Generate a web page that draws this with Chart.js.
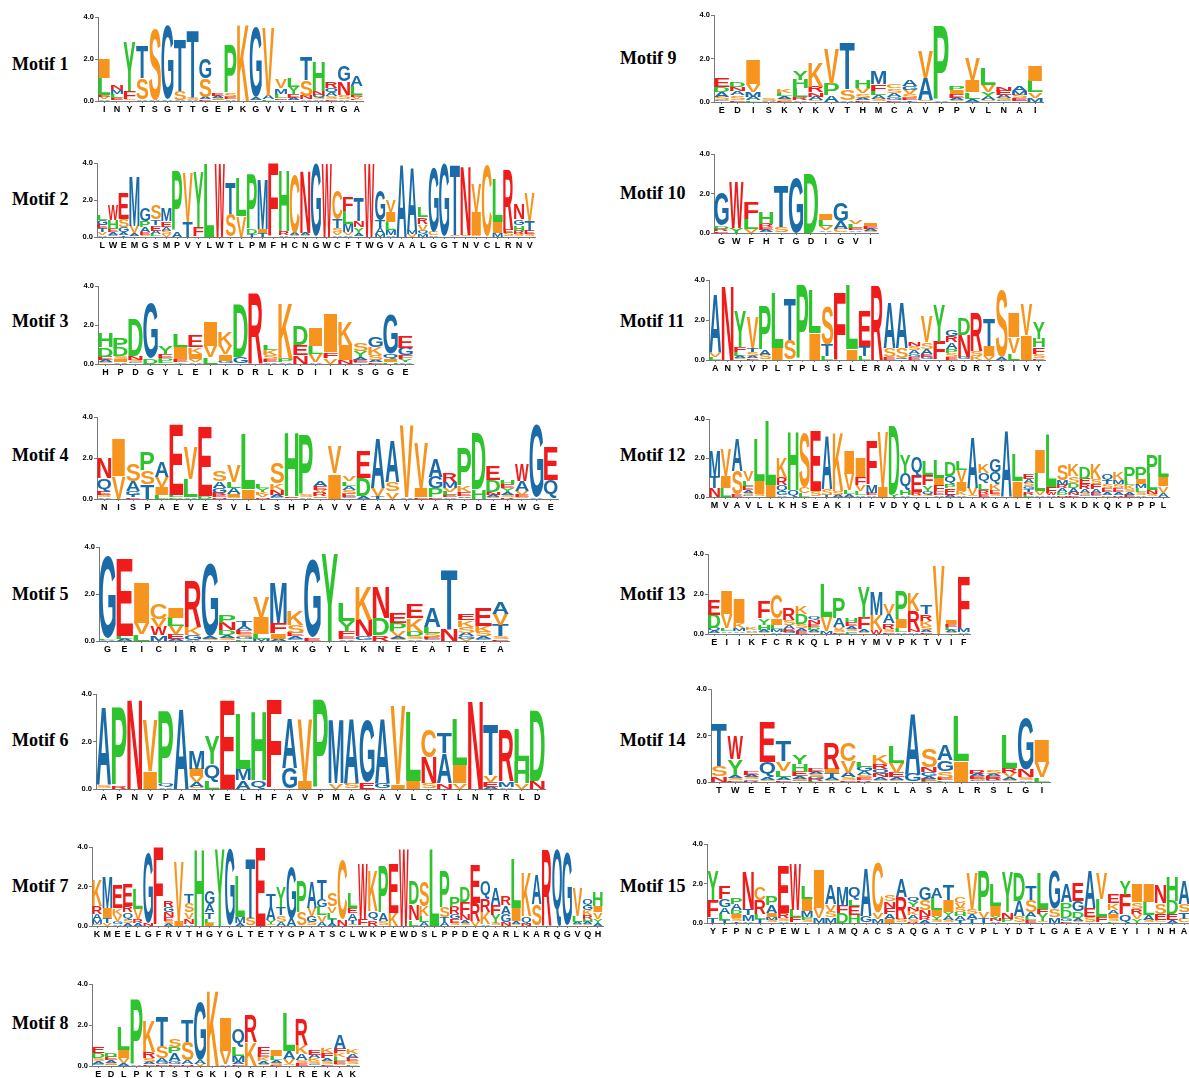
<!DOCTYPE html>
<html>
<head>
<meta charset="utf-8">
<title>Conserved motifs</title>
<script src="https://cdn.jsdelivr.net/npm/chart.js@4.4.1/dist/chart.umd.min.js"></script>
<style>
  html, body { margin: 0; padding: 0; background: #fff; }
  #page { position: relative; width: 1189px; height: 1078px; overflow: hidden; background: #fff; }
  .motif-title {
    position: absolute; white-space: nowrap; color: #000;
    font: bold 18px "Liberation Serif", "Times New Roman", serif;
    transform: translateY(-50%);
  }
  canvas { position: absolute; }
</style>
</head>
<body>
<div id="page"></div>
<script>
// Consensus residues (x-axis labels) and letter stacks for each motif.
// Each stack lists residue / height (bits) pairs from the top of the column down.
const motif1Labels = [...'INYTSGTTGEPKGVVLTHRGA'];
const motif1Stacks = [
  ['I',.95,'L',.8,'E',.12,'V',.1,'A',.08], ['N',.25,'M',.2,'L',.15,'E',.1,'S',.06], ['Y',2.3,'F',.38,'S',.08],
  ['T',1.56,'S',1.0,'A',.08], ['S',3.4,'A',.07], ['G',3.5,'A',.08], ['T',2.5,'S',.43,'A',.06],
  ['T',3.2,'S',.1,'A',.06], ['G',.96,'S',.9,'A',.1,'E',.08], ['E',.1,'A',.1,'S',.1,'G',.06],
  ['P',2.28,'S',.2,'E',.1,'A',.1], ['K',3.7], ['G',3.35,'A',.12,'S',.05], ['V',3.2,'A',.15,'L',.1],
  ['V',.45,'M',.27,'L',.2,'E',.08,'F',.07], ['L',.43,'Y',.37,'E',.15,'A',.1,'S',.06],
  ['T',1.08,'S',.75,'N',.15,'A',.08], ['H',1.43,'N',.2,'Q',.12,'S',.1,'A',.08],
  ['R',.32,'Q',.2,'A',.15,'S',.15,'E',.1], ['G',.72,'N',.64,'S',.2,'A',.1], ['A',.48,'L',.4,'E',.1,'V',.1,'F',.1]
];

const motif2Labels = [...'LWEMGSMPVYLWTLPMFHCNGWCFTWGVAALGGTNVCLRNV'];
const motif2Stacks = [
  ['L',.25,'G',.25,'E',.2,'T',.2,'V',.15,'A',.12], ['W',.8,'H',.45,'E',.2,'A',.15,'G',.1],
  ['E',1.4,'S',.45,'G',.3,'A',.15,'T',.1], ['M',2.65,'V',.4,'A',.12,'S',.08], ['G',.72,'P',.36,'A',.27,'E',.15,'S',.1],
  ['S',.76,'T',.3,'E',.3,'A',.2,'L',.1,'G',.05], ['M',.67,'E',.3,'A',.2,'S',.2,'V',.15], ['P',3.2,'A',.32],
  ['V',2.65,'T',.83], ['Y',2.95,'F',.54], ['L',3.97], ['W',3.95], ['T',1.7,'S',1.22], ['L',2.07,'V',1.13],
  ['P',2.95,'D',.29,'T',.15], ['M',2.65,'I',.23,'T',.2], ['F',3.95], ['H',3.3,'R',.2,'A',.1], ['C',3.15,'A',.15,'S',.1],
  ['N',3.4,'A',.12,'S',.1], ['G',3.95], ['W',3.95], ['C',1.53,'T',.49,'S',.23,'V',.15,'A',.1],
  ['F',.76,'L',.72,'M',.45,'V',.15,'A',.1], ['T',1.26,'N',.36,'Y',.3,'A',.15,'S',.08], ['W',3.95],
  ['G',1.62,'T',.4,'A',.36,'M',.15], ['V',.63,'I',.54,'L',.4,'M',.3,'A',.1], ['A',3.95], ['A',3.42,'M',.2,'V',.15],
  ['L',.54,'R',.36,'V',.36,'Q',.2,'M',.15], ['G',3.5,'C',.2,'A',.1], ['G',3.95], ['T',3.8,'S',.1], ['N',3.7,'S',.1],
  ['V',1.53,'I',1.26,'S',.1], ['C',3.9], ['L',2.34,'I',.63,'M',.2], ['R',3.24,'E',.2,'S',.2],
  ['N',.85,'G',.3,'H',.3,'R',.2,'S',.15], ['V',1.5,'T',.54,'E',.2,'S',.15]
];

const motif3Labels = [...'HPDGYLEIKDRLKDIIKSGGE'];
const motif3Stacks = [
  ['H',.71,'D',.48,'E',.17,'A',.1,'S',.1], ['P',.51,'D',.42,'S',.15,'I',.15,'A',.1], ['D',1.92,'N',.22,'S',.1,'G',.1],
  ['G',2.84,'D',.3], ['Y',.41,'E',.22,'D',.15,'L',.1,'A',.05], ['L',.63,'I',.63,'E',.15,'Y',.1],
  ['E',.6,'K',.34,'I',.26,'V',.15,'A',.1], ['I',1.28,'V',.56,'L',.37], ['K',.75,'V',.45,'I',.34,'G',.15],
  ['D',2.72,'G',.34], ['R',3.63], ['L',.27,'K',.24,'S',.22,'E',.15,'A',.1], ['K',2.84,'P',.17,'A',.1],
  ['D',.97,'E',.51,'N',.44], ['I',.9,'L',.41,'V',.39,'A',.1], ['I',1.96,'F',.29,'V',.3], ['K',1.19,'I',.78,'N',.2],
  ['S',.43,'Y',.29,'A',.15,'E',.12,'G',.08], ['G',.51,'K',.37,'S',.27,'A',.12,'E',.08], ['G',2.04,'Q',.29,'I',.15,'H',.1],
  ['E',.6,'G',.37,'F',.2,'Y',.15,'A',.1]
];

const motif4Labels = [...'NISPAEVESVLLSHPAVVEAAVVARPDEHWGE'];
const motif4Stacks = [
  ['N',.98,'Q',.65,'E',.16,'S',.1,'A',.1], ['I',1.82,'V',1.1], ['S',.86,'A',.49,'G',.2,'T',.12,'E',.08],
  ['P',.89,'S',.65,'T',.73], ['A',.73,'V',.49,'I',.4,'L',.2], ['E',3.41,'L',.12,'D',.08], ['V',1.54,'L',.89,'A',.1],
  ['E',3.37,'D',.15], ['S',.49,'A',.33,'G',.24,'R',.12,'E',.1,'N',.08], ['V',.81,'L',.29,'A',.28,'I',.15,'S',.1],
  ['L',2.68,'I',.49], ['L',.16,'Y',.2,'K',.15,'V',.1,'N',.1], ['S',1.0,'K',.33,'N',.25,'A',.12,'G',.08],
  ['H',3.09,'E',.08,'S',.07], ['P',2.88,'S',.1,'A',.1], ['A',.24,'E',.16,'V',.15,'R',.15,'S',.08,'G',.07],
  ['V',1.33,'I',1.25], ['V',.23,'L',.21,'A',.2,'S',.2,'E',.15,'G',.1], ['E',1.3,'D',.89,'A',.15],
  ['A',2.39,'V',.37,'T',.15], ['A',2.02,'S',.45,'V',.36], ['V',3.51,'A',.1], ['V',2.2,'I',.45,'E',.1],
  ['A',.86,'G',.54,'P',.44,'E',.1], ['R',.41,'M',.29,'V',.2,'L',.15,'E',.1,'A',.1], ['P',1.85,'K',.29,'E',.2,'A',.08,'S',.07],
  ['D',2.72,'H',.49], ['E',.65,'D',.57,'N',.15,'A',.1,'S',.1], ['H',.21,'E',.2,'Y',.2,'A',.15,'S',.1,'R',.1],
  ['W',.81,'A',.49,'V',.2,'E',.1,'S',.1], ['G',3.5,'A',.1], ['E',1.63,'Q',.93]
];

const motif5Labels = [...'GEICIRGPTVMKGYLKNEEATEEA'];
const motif5Stacks = [
  ['G',3.5,'L',.06,'A',.05], ['E',3.25,'L',.1,'A',.1], ['I',1.7,'V',.49,'L',.28], ['C',.66,'V',.35,'W',.35,'M',.24],
  ['I',.42,'L',.35,'V',.35,'E',.2,'A',.1], ['R',1.98,'K',.35,'G',.2,'A',.06], ['G',3.07,'A',.1,'S',.1],
  ['P',.35,'N',.31,'D',.23,'A',.12,'S',.12], ['T',.24,'A',.18,'E',.15,'S',.12,'G',.1,'L',.08], ['V',.89,'I',.71,'L',.2,'M',.1],
  ['M',1.72,'F',.42,'I',.24,'A',.1], ['K',.61,'S',.35,'E',.15,'A',.12,'G',.08], ['G',3.29,'E',.15], ['Y',3.7],
  ['L',.78,'Y',.42,'F',.21,'E',.12,'A',.08], ['K',1.41,'N',.71,'G',.2], ['N',1.34,'D',.71,'R',.25],
  ['E',.42,'P',.33,'V',.2,'A',.12,'S',.1], ['E',.62,'K',.56,'D',.2,'S',.12,'A',.08], ['A',.85,'L',.28,'S',.15,'E',.1,'G',.08],
  ['T',2.52,'N',.49], ['E',.28,'K',.28,'S',.25,'A',.15,'G',.1,'V',.1], ['E',.78,'K',.25,'S',.2,'A',.12,'G',.08],
  ['A',.51,'V',.48,'T',.47,'S',.12,'E',.08]
];

const motif6Labels = [...'APNVPAMYELHFAVPMAGAVLCTLNTRLD'];
const motif6Stacks = [
  ['A',3.3,'S',.15], ['P',3.3,'R',.15], ['N',3.8], ['V',2.17,'I',.75], ['P',3.05,'Q',.12,'A',.08], ['A',3.4],
  ['M',.77,'I',.31,'V',.25,'A',.2,'S',.08], ['Y',1.19,'Q',.73,'L',.32], ['E',3.76], ['L',2.29,'M',.48,'A',.36],
  ['H',2.9,'Q',.36], ['F',3.76], ['A',2.1,'G',.88], ['V',2.6,'I',.32], ['P',3.76], ['M',2.67,'V',.25],
  ['A',2.74,'S',.25], ['G',2.62,'E',.28], ['A',2.74,'G',.25], ['V',3.27,'I',.2], ['L',2.9,'I',.32],
  ['C',1.16,'N',1.08,'S',.25], ['T',.87,'A',1.26,'N',.25], ['L',1.96,'I',.77,'V',.25], ['N',3.76],
  ['T',2.15,'V',.28,'E',.2,'A',.1], ['R',2.18,'M',.24,'A',.08], ['L',1.33,'H',.91,'V',.25], ['D',2.95,'N',.35]
];

const motif7Labels = [...'KMEELGFRVTHGYGLTETYGPATSCLWKPEWDSLPPDEQARLKARQGVQH'];
const motif7Stacks = [
  ['K',1.31,'R',.4,'A',.3,'M',.2,'S',.1], ['M',1.6,'I',.5,'T',.25,'V',.15], ['E',1.18,'K',.34,'V',.3,'G',.15,'A',.1],
  ['E',1.09,'R',.34,'Q',.34,'S',.2,'A',.15], ['L',1.01,'V',.5,'R',.22,'A',.15], ['G',3.5,'N',.15], ['F',3.95],
  ['R',.34,'G',.25,'N',.25,'E',.2,'S',.15,'A',.12], ['V',2.99,'I',.25], ['T',.44,'S',.45,'V',.34,'N',.25,'A',.1],
  ['H',3.92], ['G',.64,'A',.42,'T',.34,'L',.2,'I',.15], ['Y',3.92], ['G',3.92], ['L',2.05,'M',.3,'A',.15],
  ['T',3.03,'S',.39], ['E',3.97], ['T',.67,'A',.67,'Y',.2,'S',.1], ['Y',1.01,'T',.42,'S',.34,'A',.2],
  ['G',2.59,'A',.39], ['P',1.6,'S',.67], ['A',1.34,'V',.42,'G',.3,'S',.2], ['T',.96,'G',.42,'L',.42,'V',.34,'A',.2],
  ['S',.67,'V',.34,'L',.3,'T',.2,'A',.15], ['C',2.97,'N',.34], ['L',.79,'E',.25,'A',.34,'T',.2,'S',.1],
  ['W',2.77,'F',.34], ['K',2.02,'Q',.45,'R',.3], ['P',2.35,'A',.42,'S',.25], ['E',2.47,'K',.67], ['W',3.92],
  ['D',1.18,'N',.81,'L',.29], ['S',1.29,'K',.5,'L',.3,'A',.2], ['L',3.92], ['P',1.85,'S',.5,'T',.25,'A',.2],
  ['P',.55,'R',.37,'G',.25,'E',.2,'S',.15], ['D',.76,'F',.59,'N',.3,'A',.15,'S',.15], ['E',1.93,'R',.92,'V',.25],
  ['Q',.92,'R',.67,'K',.59,'A',.1], ['A',.84,'F',.5,'Y',.42,'S',.15], ['R',.47,'A',.42,'G',.42,'N',.2],
  ['L',2.44,'I',.64,'A',.15,'S',.1], ['K',2.24,'Q',.34,'N',.15], ['A',1.51,'S',1.09], ['R',3.87], ['Q',3.87],
  ['G',3.7], ['V',1.45,'L',.29,'A',.12,'S',.08], ['Q',.34,'G',.27,'K',.24,'R',.2,'H',.15,'A',.12,'S',.08],
  ['H',.72,'I',.34,'V',.34,'Y',.2,'A',.15]
];

const motif8Labels = [...'EDLPKTSTGKIQRFILREKAK'];
const motif8Stacks = [
  ['E',.28,'D',.24,'S',.15,'A',.15,'G',.1], ['D',.21,'E',.16,'A',.15,'S',.1,'G',.05], ['L',1.13,'I',.4,'V',.25,'A',.15],
  ['P',3.17,'A',.06], ['K',1.52,'R',.29,'S',.2,'A',.12,'E',.08], ['T',1.46,'S',.57,'A',.2,'G',.1,'E',.1],
  ['S',.37,'P',.28,'A',.37,'G',.15,'E',.1], ['T',1.08,'S',.89,'A',.2,'N',.1], ['G',2.83,'A',.2,'V',.12], ['K',3.72],
  ['I',1.67,'V',.65,'A',.1], ['Q',.89,'L',.44,'M',.29,'A',.12,'E',.08], ['R',1.33,'K',1.17],
  ['F',.28,'E',.21,'K',.2,'A',.12,'S',.1], ['I',.28,'L',.2,'A',.12,'S',.1,'E',.06], ['L',1.86,'A',.37,'V',.25,'S',.1],
  ['R',1.26,'K',.45,'A',.3,'S',.15,'E',.12], ['E',.24,'A',.16,'K',.15,'S',.12,'G',.1], ['K',.24,'F',.24,'A',.15,'S',.12,'E',.1],
  ['A',.7,'F',.23,'K',.2,'L',.2,'E',.12,'S',.1], ['K',.26,'A',.2,'E',.15,'S',.12,'L',.1]
];

const motif9Labels = [...'EDISKYKVTHMCAVPPVLNAI'];
const motif9Stacks = [
  ['E',.41,'D',.24,'A',.21,'S',.15,'G',.1], ['D',.21,'N',.2,'A',.2,'S',.2,'E',.1], ['I',1.11,'V',.34,'M',.23,'A',.15,'L',.1],
  ['S',.1,'A',.05], ['K',.15,'L',.15,'A',.1,'S',.1,'E',.06], ['Y',.41,'H',.4,'L',.41,'R',.12,'A',.1],
  ['K',1.11,'R',.26,'N',.2,'A',.15,'S',.1], ['V',1.57,'P',.52,'A',.3], ['T',2.17,'S',.5,'A',.1],
  ['H',.38,'V',.23,'S',.2,'A',.12,'E',.08], ['M',.58,'F',.31,'L',.21,'A',.15,'S',.15], ['C',.18,'S',.2,'A',.2,'G',.12,'E',.1],
  ['A',.31,'G',.2,'V',.2,'S',.15,'E',.1,'T',.1], ['V',1.25,'A',.99,'S',.1], ['P',3.4,'A',.1],
  ['P',.2,'I',.2,'E',.15,'A',.1,'S',.1], ['V',.99,'I',.56,'L',.3,'A',.15], ['L',.73,'V',.34,'Y',.2,'A',.15,'S',.1],
  ['N',.2,'E',.2,'A',.15,'S',.1,'G',.07], ['A',.25,'M',.2,'S',.15,'E',.1,'G',.06], ['I',.72,'L',.53,'V',.25,'M',.2]
];

const motif10Labels = [...'GWFHTGDIGVI'];
const motif10Stacks = [
  ['G',1.69,'D',.15,'R',.12,'E',.1], ['W',2.36,'Y',.25], ['F',.84,'L',.51,'V',.2], ['H',.59,'R',.17,'E',.15,'A',.1,'S',.05],
  ['T',2.09,'S',.3], ['G',2.84], ['D',3.0], ['I',.29,'L',.34,'V',.2,'A',.08,'E',.05], ['G',.93,'A',.39,'C',.2],
  ['V',.22,'L',.2,'E',.12,'A',.08,'S',.05], ['I',.15,'E',.15,'A',.1,'S',.1]
];

const motif11Labels = [...'ANYVPLTPLSFLERAANVYGDRTSIVY'];
const motif11Stacks = [
  ['A',2.92,'V',.2,'L',.15], ['N',3.75], ['Y',1.78,'F',.25,'L',.2,'A',.12,'S',.08], ['V',1.5,'T',.22,'S',.2,'A',.12,'E',.08],
  ['P',2.22,'A',.28,'S',.25], ['L',2.75,'I',.58], ['T',2.08,'S',1.0], ['P',3.75], ['L',2.17,'I',1.33],
  ['S',1.92,'T',.58,'L',.2], ['F',3.42], ['L',3.22,'I',.53], ['E',1.75,'T',.5,'L',.2], ['R',3.72],
  ['A',2.3,'S',.45,'E',.15], ['A',2.3,'S',.5,'Q',.1], ['N',.22,'S',.2,'A',.2,'G',.15,'E',.15],
  ['V',1.25,'S',.33,'A',.25,'E',.15,'G',.15], ['Y',1.83,'F',.92], ['G',.33,'R',.33,'A',.33,'P',.2,'S',.2,'E',.15],
  ['D',.83,'N',1.08,'G',.15], ['R',1.92,'S',.25,'K',.2], ['T',1.37,'I',.5,'V',.2], ['S',3.33,'A',.15],
  ['I',1.2,'V',.78,'L',.35], ['V',1.53,'I',1.25], ['Y',.83,'H',.42,'F',.33,'S',.2,'E',.1]
];

const motif12Labels = [...'MVAVLLKHSEAKIIFVDYQLLDLAKGALEILSKDKQKPPPL'];
const motif12Stacks = [
  ['M',1.32,'T',.57,'N',.46], ['V',1.37,'I',.62,'L',.46], ['A',1.63,'S',1.2,'E',.15], ['V',.52,'L',.26,'E',.2,'A',.15,'S',.12,'G',.1],
  ['L',2.13,'I',.65,'S',.15], ['L',3.3,'I',.6], ['K',1.03,'R',.38,'Q',.31,'G',.2,'A',.1], ['H',3.0,'Q',.38],
  ['S',2.78,'C',.31,'L',.2], ['E',3.09,'S',.3], ['A',2.71,'S',.3,'T',.12], ['K',2.97,'S',.2,'A',.12],
  ['I',1.2,'V',.82,'L',.2,'A',.15], ['I',.96,'F',.41,'V',.31,'L',.2,'A',.1], ['F',2.27,'M',.39,'E',.12,'A',.1],
  ['V',2.8,'I',.52], ['D',3.49,'Y',.15], ['Y',.94,'Q',.86,'H',.25,'A',.1], ['Q',1.06,'E',.82,'R',.15,'S',.1],
  ['L',.72,'F',.51,'Y',.34,'Q',.15,'S',.12], ['L',.89,'I',.38,'F',.31,'E',.2,'A',.1], ['D',.69,'Q',.41,'P',.22,'E',.34,'A',.12],
  ['L',.46,'V',.64,'I',.45,'K',.2,'A',.1], ['A',2.57,'V',.38,'S',.1], ['K',.45,'Q',.52,'L',.34,'R',.2,'E',.15],
  ['G',.69,'Q',.6,'K',.34,'E',.2,'S',.15], ['A',3.43], ['L',1.37,'I',.82],
  ['E',.26,'A',.2,'S',.2,'G',.15,'T',.15,'R',.12,'L',.12], ['I',1.2,'L',.94,'V',.2,'A',.1], ['L',2.71,'F',.31,'W',.12,'A',.08],
  ['S',.77,'M',.26,'R',.17,'A',.2,'D',.15,'N',.1], ['K',.6,'S',.34,'D',.26,'A',.25,'N',.12,'E',.1],
  ['D',.57,'E',.29,'R',.25,'A',.2,'S',.12,'G',.08], ['K',.77,'S',.26,'F',.25,'A',.2,'E',.12,'G',.1],
  ['Q',.34,'T',.2,'S',.2,'E',.2,'A',.15,'K',.1], ['K',.38,'M',.2,'S',.2,'E',.2,'A',.15,'R',.1],
  ['P',.74,'L',.2,'K',.2,'S',.15,'A',.15,'E',.12], ['P',.62,'I',.24,'M',.2,'L',.2,'S',.15,'A',.1],
  ['P',.94,'L',.86,'N',.2,'S',.1,'A',.05], ['L',1.12,'I',.48,'V',.34,'A',.2]
];

const motif13Labels = [...'EIIKFCRKQLPHYMVPKTVIF'];
const motif13Stacks = [
  ['E',.78,'D',.67,'Q',.15,'A',.1,'S',.05], ['I',1.17,'V',.72,'L',.15,'A',.08,'S',.05], ['I',1.25,'K',.25,'M',.15,'A',.08,'S',.05],
  ['K',.15,'A',.08,'S',.07,'E',.05], ['F',.83,'Y',.33,'H',.25,'A',.12,'S',.08], ['C',1.17,'I',.33,'L',.2,'M',.15,'A',.1],
  ['R',.58,'S',.25,'A',.2,'E',.12,'G',.12], ['K',.4,'D',.5,'S',.2,'A',.15,'E',.15], ['Q',.17,'N',.2,'E',.15,'D',.15,'A',.12,'S',.1],
  ['L',1.67,'V',.7,'M',.15], ['P',1.05,'A',.45,'V',.15,'S',.1,'E',.08], ['H',.22,'E',.2,'A',.15,'S',.12,'G',.08,'L',.06],
  ['Y',1.53,'F',.58,'A',.12,'S',.1], ['M',1.17,'K',.77,'W',.2], ['V',.5,'A',.45,'R',.28,'S',.15,'E',.1],
  ['P',1.42,'I',.42,'L',.2,'A',.1], ['K',.92,'R',.92,'N',.15,'A',.1], ['T',.45,'R',.33,'K',.25,'S',.2,'A',.1,'E',.1],
  ['V',3.42], ['I',.17,'E',.15,'L',.15,'A',.1,'S',.08], ['F',2.58,'M',.2,'A',.08]
];

const motif14Labels = [...'TWEETYERCLKLASALRSLGI'];
const motif14Stacks = [
  ['T',1.83,'S',.43,'N',.25], ['W',1.01,'Y',.68,'A',.12,'S',.1,'E',.08], ['E',.15,'A',.1,'S',.1,'G',.07,'R',.05],
  ['E',1.68,'Q',.65,'A',.1,'S',.1], ['T',.89,'V',.4,'L',.29,'A',.12,'E',.08], ['Y',.36,'H',.32,'E',.2,'A',.12,'S',.08,'G',.05],
  ['E',.15,'A',.12,'S',.1,'G',.1,'R',.08,'L',.05], ['R',1.1,'I',.2,'T',.15,'A',.12,'S',.1], ['C',.79,'V',.5,'A',.2,'S',.12,'E',.08],
  ['L',.2,'G',.2,'A',.15,'S',.12,'E',.1,'R',.08], ['K',.36,'R',.22,'Q',.2,'N',.15,'A',.12,'S',.08],
  ['L',.72,'V',.43,'E',.2,'A',.12,'S',.08], ['A',2.63,'G',.36], ['S',.79,'N',.22,'G',.15,'A',.12,'E',.08,'L',.06],
  ['A',.68,'G',.47,'S',.3,'E',.1,'L',.08], ['L',1.94,'I',.89], ['R',.15,'A',.1,'E',.1,'S',.08,'G',.07],
  ['S',.15,'A',.1,'E',.1,'R',.08,'G',.07], ['L',1.44,'R',.2,'V',.2,'A',.12,'S',.08], ['G',2.2,'N',.32,'S',.12,'A',.08],
  ['I',.94,'V',.65,'L',.2]
];

const motif15Labels = [...'YFPNCPEWLIAMQACSAQGATCVPLYDTLGAEAVEYIINHA'];
const motif15Stacks = [
  ['Y',1.49,'F',.85,'T',.3], ['F',.63,'G',.42,'A',.34,'L',.3,'T',.15], ['P',.34,'A',.3,'D',.2,'I',.2,'S',.15,'T',.1],
  ['N',1.92,'T',.3,'M',.29,'A',.1], ['C',.68,'R',.68,'L',.25,'T',.2], ['P',.46,'A',.39,'I',.22,'M',.15,'S',.15],
  ['E',2.42,'R',.25,'S',.15,'A',.1], ['W',2.3,'L',.37,'F',.3], ['L',.63,'I',.59,'M',.3,'P',.15,'S',.15],
  ['I',1.95,'V',.51,'M',.25], ['A',.98,'V',.34,'S',.3,'M',.3], ['M',.95,'F',.37,'D',.51], ['Q',.68,'L',.3,'E',.46,'H',.39],
  ['A',2.46,'G',.34], ['C',2.54,'V',.3,'M',.2], ['S',.34,'N',.34,'F',.3,'A',.25,'I',.2], ['A',.93,'R',1.1,'S',.2],
  ['Q',.25,'Y',.25,'N',.2,'K',.2,'A',.2,'S',.15,'R',.07], ['G',.68,'S',.51,'N',.34,'R',.2,'A',.13],
  ['A',.51,'L',.64,'I',.29,'Y',.2,'S',.15], ['T',.78,'I',.58,'Y',.22,'A',.2,'S',.15],
  ['C',.3,'V',.24,'S',.24,'H',.2,'A',.2,'T',.14], ['V',1.83,'S',.25,'A',.25,'T',.2], ['P',2.0,'V',.34,'T',.25],
  ['L',1.07,'I',.51,'Y',.15,'N',.1,'A',.1], ['Y',2.0,'N',.34,'P',.2], ['D',1.41,'A',.76,'S',.35],
  ['T',.73,'S',.59,'A',.25,'L',.15,'E',.15], ['L',1.83,'F',.25,'Y',.35,'S',.1], ['G',1.95,'S',.42,'M',.3],
  ['A',.9,'P',.42,'D',.37,'G',.15,'E',.1], ['E',.88,'G',.51,'D',.34,'A',.15,'S',.1], ['A',1.92,'E',.46,'S',.3],
  ['V',1.3,'L',.9,'F',.3], ['E',.47,'K',.34,'A',.2,'I',.2,'S',.15,'L',.1], ['Y',.68,'F',1.02,'Q',.42],
  ['I',.93,'S',.34,'R',.25,'V',.25,'Y',.2], ['I',.93,'L',.68,'A',.25,'S',.15], ['N',.9,'S',.54,'E',.3,'C',.15],
  ['H',1.27,'D',.68,'E',.3,'A',.15], ['A',1.19,'S',.42,'T',.35,'C',.2]
];

// Residue colouring used by the logos
const BLUE = '#1a6ca8', RED = '#f01c1c', GREEN = '#2ec42e', ORANGE = '#f7941d';
const residueColor = {
  A: BLUE, G: BLUE, M: BLUE, Q: BLUE, T: BLUE,
  E: RED, W: RED, N: RED, R: RED, F: RED,
  P: GREEN, L: GREEN, Y: GREEN, D: GREEN, H: GREEN,
  S: ORANGE, V: ORANGE, K: ORANGE, C: ORANGE, I: ORANGE
};

// Page placement of each logo panel: plot-area left edge, y of 4.0 and 0.0, column pitch, title anchor
const panels = [
  { title: 'Motif 1',  labels: motif1Labels,  stacks: motif1Stacks,  left: 97.7,  top: 17.3,  bottom: 101,   pitch: 12.63, tx: 12,  ty: 64 },
  { title: 'Motif 2',  labels: motif2Labels,  stacks: motif2Stacks,  left: 97.0,  top: 162.7, bottom: 236.7, pitch: 10.68, tx: 12,  ty: 199 },
  { title: 'Motif 3',  labels: motif3Labels,  stacks: motif3Stacks,  left: 97.5,  top: 286,   bottom: 364.3, pitch: 15.0,  tx: 12,  ty: 321 },
  { title: 'Motif 4',  labels: motif4Labels,  stacks: motif4Stacks,  left: 96.8,  top: 417.3, bottom: 499.3, pitch: 14.42, tx: 12,  ty: 455 },
  { title: 'Motif 5',  labels: motif5Labels,  stacks: motif5Stacks,  left: 98.75, top: 547,   bottom: 641.3, pitch: 17.1,  tx: 12,  ty: 594 },
  { title: 'Motif 6',  labels: motif6Labels,  stacks: motif6Stacks,  left: 95.6,  top: 694,   bottom: 789,   pitch: 15.48, tx: 12,  ty: 740 },
  { title: 'Motif 7',  labels: motif7Labels,  stacks: motif7Stacks,  left: 91.6,  top: 846.7, bottom: 926,   pitch: 10.22, tx: 12,  ty: 886 },
  { title: 'Motif 8',  labels: motif8Labels,  stacks: motif8Stacks,  left: 91.9,  top: 984,   bottom: 1066.3,pitch: 12.72, tx: 12,  ty: 1023 },
  { title: 'Motif 9',  labels: motif9Labels,  stacks: motif9Stacks,  left: 713.9, top: 14.7,  bottom: 102,   pitch: 15.67, tx: 620, ty: 58 },
  { title: 'Motif 10', labels: motif10Labels, stacks: motif10Stacks, left: 714.2, top: 154,   bottom: 233,   pitch: 14.9,  tx: 620, ty: 193 },
  { title: 'Motif 11', labels: motif11Labels, stacks: motif11Stacks, left: 708.8, top: 279.7, bottom: 359.7, pitch: 12.44, tx: 620, ty: 321 },
  { title: 'Motif 12', labels: motif12Labels, stacks: motif12Stacks, left: 709.4, top: 419,   bottom: 496.7, pitch: 11.23, tx: 620, ty: 455 },
  { title: 'Motif 13', labels: motif13Labels, stacks: motif13Stacks, left: 707.8, top: 554,   bottom: 634,   pitch: 12.47, tx: 620, ty: 594 },
  { title: 'Motif 14', labels: motif14Labels, stacks: motif14Stacks, left: 711.2, top: 689,   bottom: 781.7, pitch: 16.12, tx: 620, ty: 740 },
  { title: 'Motif 15', labels: motif15Labels, stacks: motif15Stacks, left: 707.4, top: 844,   bottom: 922.7, pitch: 11.79, tx: 620, ty: 886 }
];

// Draws each stacked bar segment as its residue letter, stretched to fill the segment
const GLYPH_FONT = 'bold 100px "Liberation Sans", Arial, Helvetica, sans-serif';
const glyphCache = {};
function glyphBox(ctx, ch) {
  if (!glyphCache[ch]) {
    ctx.save();
    ctx.font = GLYPH_FONT;
    const m = ctx.measureText(ch);
    ctx.restore();
    glyphCache[ch] = { l: m.actualBoundingBoxLeft, r: m.actualBoundingBoxRight,
                       a: m.actualBoundingBoxAscent, d: m.actualBoundingBoxDescent };
  }
  return glyphCache[ch];
}
const letterPlugin = {
  id: 'logoLetters',
  afterDatasetsDraw(chart) {
    const ctx = chart.ctx;
    chart.data.datasets.forEach((ds, i) => {
      const meta = chart.getDatasetMeta(i);
      meta.data.forEach((bar, j) => {
        const ch = ds.residues[j];
        if (!ch || !(ds.data[j] > 0)) return;
        const { x, y, base, width } = bar.getProps(['x', 'y', 'base', 'width'], true);
        const h = base - y;
        if (h < 0.25) return;
        const g = glyphBox(ctx, ch);
        const x0 = x - width / 2 + 0.3, w = width - 0.6;
        ctx.save();
        ctx.translate(x0, base);
        ctx.scale(w / (g.l + g.r), h / (g.a + g.d));
        ctx.font = GLYPH_FONT;
        ctx.textAlign = 'left';
        ctx.textBaseline = 'alphabetic';
        ctx.fillStyle = residueColor[ch] || '#000';
        ctx.fillText(ch, g.l, -g.d);
        ctx.restore();
      });
    });
  }
};

const page = document.getElementById('page');
const AXIS_FONT = '"Liberation Sans", Arial, Helvetica, sans-serif';
const PAD_T = 6, PAD_R = 4, AX_W = 24, AX_H = 17;

function buildPanel(p) {
  const title = document.createElement('div');
  title.className = 'motif-title';
  title.textContent = p.title;
  title.style.left = p.tx + 'px';
  title.style.top = p.ty + 'px';
  page.appendChild(title);

  const n = p.labels.length;
  const plotW = Math.round(n * p.pitch);
  const plotH = Math.round(p.bottom - p.top);
  const canvas = document.createElement('canvas');
  canvas.width = plotW + AX_W + PAD_R;
  canvas.height = plotH + PAD_T + AX_H;
  page.appendChild(canvas);

  // stacks are listed top-down; datasets stack bottom-up
  const cols = p.stacks.map(col => {
    const pairs = [];
    for (let i = 0; i < col.length; i += 2) pairs.push([col[i], col[i + 1]]);
    return pairs.reverse();
  });
  const depth = Math.max(...cols.map(c => c.length));
  const datasets = [];
  for (let k = 0; k < depth; k++) {
    datasets.push({
      data: cols.map(c => (c[k] ? c[k][1] : 0)),
      residues: cols.map(c => (c[k] ? c[k][0] : '')),
      backgroundColor: 'rgba(0,0,0,0)',
      borderWidth: 0
    });
  }

  const chart = new Chart(canvas, {
    type: 'bar',
    data: { labels: p.labels, datasets },
    options: {
      responsive: false,
      animation: false,
      events: [],
      layout: { padding: { top: PAD_T, right: PAD_R, left: 0, bottom: 0 } },
      plugins: { legend: { display: false }, tooltip: { enabled: false } },
      datasets: { bar: { barPercentage: 1, categoryPercentage: 1 } },
      scales: {
        x: {
          stacked: true,
          offset: true,
          grid: { display: true, drawOnChartArea: false, offset: false, tickLength: 2, color: '#777' },
          border: { display: true, color: '#777', width: 1 },
          ticks: { autoSkip: false, maxRotation: 0, minRotation: 0, padding: 1, color: '#000',
                   font: { family: AXIS_FONT, size: 9, weight: 'bold' } },
          afterFit(scale) { scale.height = AX_H; }
        },
        y: {
          stacked: true,
          min: 0, max: 4,
          grid: { display: true, drawOnChartArea: false, tickLength: 3, color: '#777' },
          border: { display: true, color: '#777', width: 1 },
          ticks: { stepSize: 2, padding: 1, color: '#000', callback: v => Number(v).toFixed(1),
                   font: { family: AXIS_FONT, size: 7.5, weight: 'bold' } },
          afterFit(scale) { scale.width = AX_W; }
        }
      }
    },
    plugins: [letterPlugin]
  });

  let ca = chart.chartArea;
  const dw = plotW - (ca.right - ca.left);
  const dh = plotH - (ca.bottom - ca.top);
  if (Math.abs(dw) > 0.5 || Math.abs(dh) > 0.5) {
    chart.resize(Math.round(canvas.width + dw), Math.round(canvas.height + dh));
    ca = chart.chartArea;
  }
  canvas.style.left = Math.round(p.left - ca.left) + 'px';
  canvas.style.top = Math.round(p.top - ca.top) + 'px';
}

panels.forEach(buildPanel);
</script>
</body>
</html>
